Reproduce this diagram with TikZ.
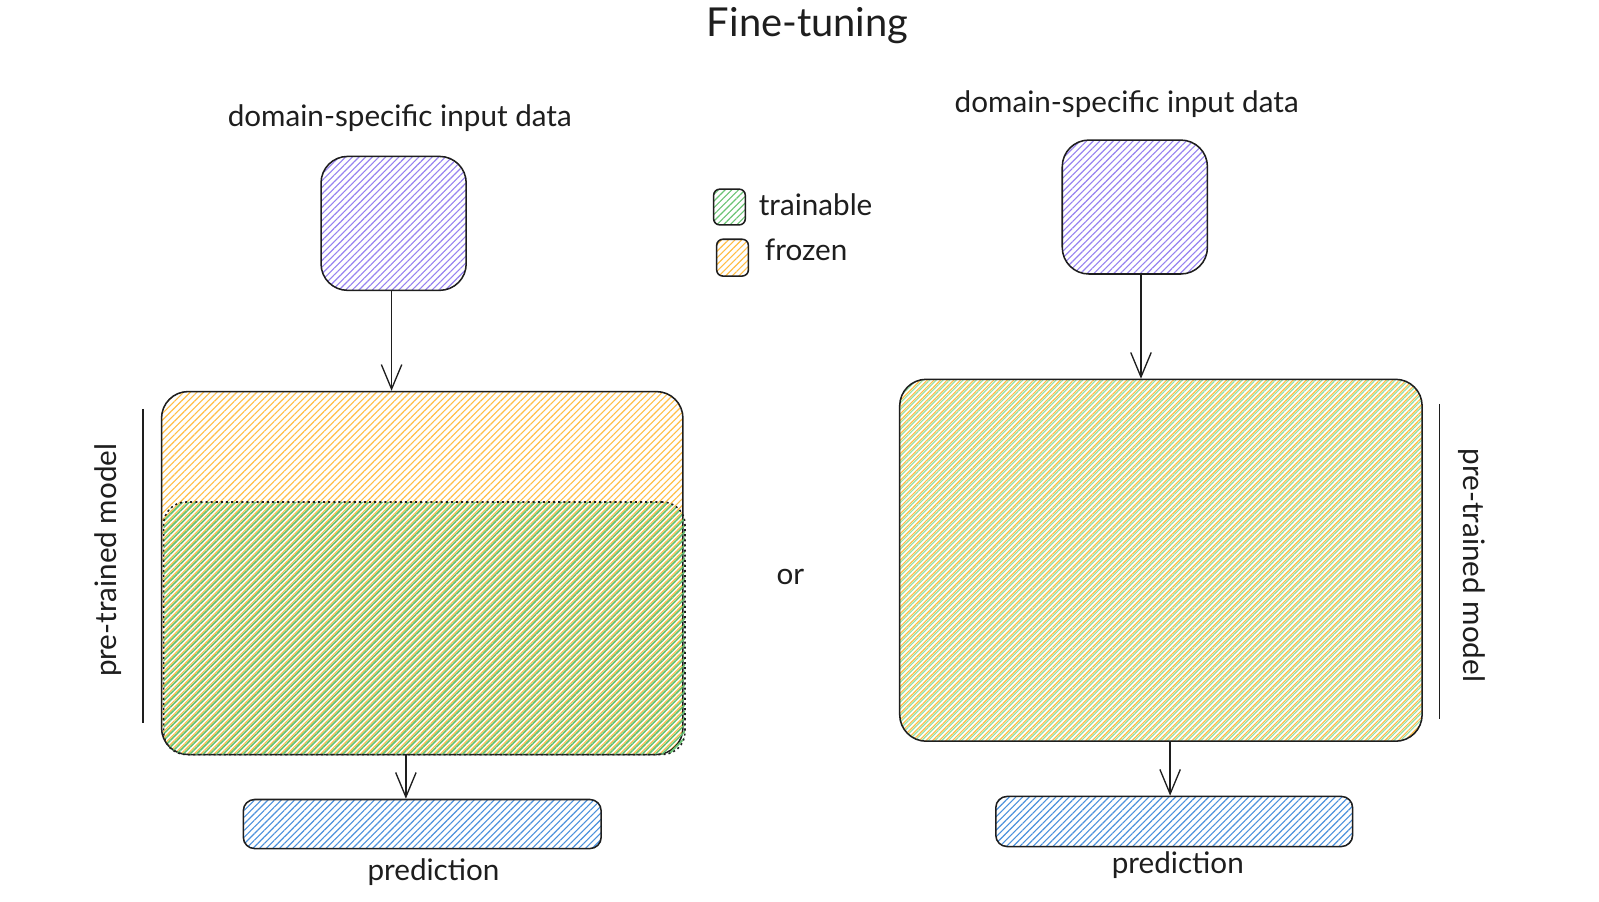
\documentclass[tikz,border=0pt]{standalone}
\usepackage{fontspec}
\setmainfont{Lato}
\usetikzlibrary{arrows.meta,patterns.meta}
\definecolor{hviolet}{RGB}{150,130,240}
\definecolor{horange}{RGB}{255,190,70}
\definecolor{hgreen}{RGB}{105,195,115}
\definecolor{hmint}{RGB}{150,225,165}
\definecolor{hblue}{RGB}{75,145,220}
\definecolor{ink}{RGB}{30,30,30}
\tikzset{
  hatch/.style={pattern={Lines[angle=45,distance=4.6pt,line width=1.1pt]}, pattern color=#1},
  hatchB/.style={pattern={Lines[angle=45,distance=4.6pt,line width=1.1pt,xshift=2.3pt]}, pattern color=#1},
  hatchG/.style={pattern={Lines[angle=45,distance=4.6pt,line width=1.6pt,xshift=2.3pt]}, pattern color=#1},
  boxx/.style={draw=ink, line width=1.5pt, inner sep=0pt, rounded corners=#1},
  lbl/.style={font=\fontsize{29}{34}\selectfont, text=ink, inner sep=0pt},
  arr/.style={draw=ink, line width=1.3pt, -{Straight Barb[length=24pt,width=20pt,line width=1.3pt]}},
  bar/.style={draw=ink, line width=1.4pt},
  dotborder/.style={postaction={draw=ink, line width=1.5pt, dash pattern=on 2pt off 3pt}},
}
\begin{document}
\begin{tikzpicture}[x=1pt,y=-1pt]
\useasboundingbox[fill=white] (0,0) rectangle (1564,882);
% title
\node[lbl, font=\fontsize{39}{44}\selectfont] (title) at (790,25) {Fine-tuning};
% legend
\node[boxx=6pt, hatch=hgreen, minimum width=31pt, minimum height=35pt] (legT) at (713.5,202.5) {};
\node[boxx=6pt, hatch=horange, minimum width=31pt, minimum height=36pt] (legF) at (716.5,252) {};
\node[lbl, anchor=west] (legTt) at (742,200) {trainable};
\node[lbl, anchor=west] (legFt) at (748,244) {frozen};
% or
\node[lbl] (or) at (773,564) {or};
% ---------------- left
\node[lbl] (inLt) at (391,116) {domain-specific input data};
\node[boxx=26pt, hatch=hviolet, minimum width=142pt, minimum height=131pt] (inL) at (385,218.5) {};
\node[boxx=26pt, hatch=horange, minimum width=510pt, minimum height=355pt] (modL) at (413,560.5) {};
\node[inner sep=0pt, rounded corners=22pt, hatchG=hgreen, dotborder,
      minimum width=510pt, minimum height=247pt] (trL) at (415,614.5) {};
\node[boxx=11pt, hatch=hblue, minimum width=350pt, minimum height=48pt] (predL) at (413,806) {};
\node[lbl] (predLt) at (424,853) {prediction};
\coordinate (barLa) at (140,400);
\coordinate (barLb) at (140,707);
\draw[bar] (barLa) -- (barLb);
\node[lbl, rotate=90] (modLt) at (106,548) {pre-trained model};
\draw[arr] ([xshift=-2pt]inL.south) -- ([xshift=-2pt]inL.south |- modL.north);
\draw[arr] ([xshift=-16pt]modL.south) -- ([xshift=-16pt]predL.north);
% ---------------- right
\node[lbl] (inRt) at (1102,102) {domain-specific input data};
\node[boxx=26pt, hatch=hviolet, minimum width=142pt, minimum height=131pt] (inR) at (1110,202.5) {};
\node[boxx=26pt, preaction={hatch=horange}, hatchB=hmint, minimum width=511pt, minimum height=354pt] (modR) at (1135.5,548) {};
\node[boxx=11pt, hatch=hblue, minimum width=349pt, minimum height=49pt] (predR) at (1148.5,803.5) {};
\node[lbl] (predRt) at (1152,846) {prediction};
\coordinate (barRa) at (1408,395);
\coordinate (barRb) at (1408,703);
\draw[bar] (barRa) -- (barRb);
\node[lbl, rotate=-90] (modRt) at (1440,553) {pre-trained model};
\draw[arr] ([xshift=6pt]inR.south) -- ([xshift=6pt]inR.south |- modR.north);
\draw[arr] ([xshift=-4pt]predR.north |- modR.south) -- ([xshift=-4pt]predR.north);
\end{tikzpicture}
\end{document}
